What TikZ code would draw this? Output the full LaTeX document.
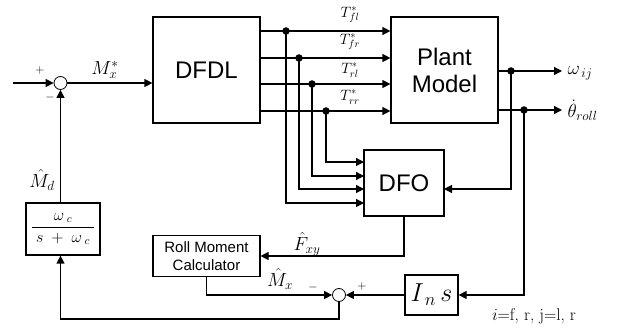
\documentclass[tikz,border=0pt]{standalone}
\usepackage{fix-cm}
\usepackage{fontspec}
\newfontfamily\boxfont{Liberation Sans}
\usetikzlibrary{arrows.meta}
\begin{document}
\begin{tikzpicture}[x=1pt,y=-1pt,
  line width=1.2pt,
  arr/.style={-{Triangle[length=8pt,width=8pt]}},
  blk/.style={draw,rectangle,inner sep=0pt,font=\boxfont\fontsize{24}{27}\selectfont,align=center},
  sumj/.style={draw,circle,minimum size=13pt,inner sep=0pt,line width=0.8pt},
  dot/.style={circle,fill,inner sep=0pt,minimum size=7.5pt},
  lab/.style={inner sep=0pt,font=\fontsize{19}{21}\selectfont},
  tlab/.style={inner sep=0pt,font=\fontsize{15}{17}\selectfont},
  sign/.style={inner sep=0pt,font=\fontsize{12}{12}\selectfont}]
\useasboundingbox (0,0) rectangle (619,331);

% blocks
\node[blk,minimum width=107pt,minimum height=106pt] (dfdl) at (206.5,70) {DFDL};
\node[blk,minimum width=107pt,minimum height=106pt] (plant) at (444.5,70) {Plant\\Model};
\node[blk,minimum width=80pt,minimum height=66pt] (dfo) at (404,183) {DFO};
\node[blk,font=\boxfont\fontsize{15}{18}\selectfont,minimum width=107pt,minimum height=41pt] (rmc) at (206.5,256) {Roll Moment\\Calculator};
\node[blk,font=\fontsize{26}{28}\selectfont,minimum width=53pt,minimum height=40pt] (ins) at (431.5,295) {$I_{\,n}\,s$};
\node[blk,font=\fontsize{16}{18}\selectfont,minimum width=74pt,minimum height=52pt] (filt) at (63,229) {$\displaystyle\frac{\omega_{\;c}}{\;s\;+\;\omega_{\;c}\;}$};

% summing junctions
\node[sumj] (s1) at (60.5,83) {};
\node[sumj] (s2) at (339,295) {};

% coordinates
\coordinate (in) at (13,83);
\coordinate (d1) at (286,31);
\coordinate (d2) at (299,58);
\coordinate (d3) at (312,84);
\coordinate (d4) at (326,111);
\coordinate (q1) at (364,203);
\coordinate (q2) at (364,189);
\coordinate (q3) at (364,176);
\coordinate (q4) at (364,162);
\coordinate (o1) at (511,71);
\coordinate (o2) at (524,110);
\coordinate (w) at (562,71);
\coordinate (th) at (562,110);
\coordinate (q5) at (444,189);
\coordinate (bl) at (60.5,319);

% connectors
\draw[arr] (in) -- (s1.west);
\draw[arr] (s1.east) -- (s1.east -| dfdl.west);
\foreach \k in {1,...,4} {\draw[arr] (dfdl.east |- d\k) -- (plant.west |- d\k);}
\foreach \k in {1,...,4} {\draw[arr] (d\k) |- (q\k);}
\draw[arr] (plant.east |- o1) -- (w);
\draw[arr] (plant.east |- o2) -- (th);
\draw[arr] (o1) |- (q5);
\draw[arr] (o2) |- (ins.east);
\draw[arr] (ins.west) -- (s2.east);
\draw[arr] (dfo.south) |- (rmc.east);
\draw[arr] (rmc.south) |- (s2.west);
\draw[arr] (s2.south) |- (bl) -- (bl |- filt.south);
\draw[arr] (filt.north -| s1) -- (s1.south);
\foreach \c in {d1,d2,d3,d4,o1,o2} {\node[dot] (dot-\c) at (\c) {};}

% labels
\node[lab] (lMx) at (105,70) {$M_{x}^{*}$};
\node[tlab] (lT1) at (350,15) {$T_{fl}^{*}$};
\node[tlab] (lT2) at (350,42) {$T_{fr}^{*}$};
\node[tlab] (lT3) at (350,70) {$T_{rl}^{*}$};
\node[tlab] (lT4) at (350,97) {$T_{rr}^{*}$};
\node[lab] (lMd) at (42,180) {$\hat{M}_{d}$};
\node[lab] (lF) at (307,244) {$\hat{F}_{xy}$};
\node[lab] (lMx2) at (280,279) {$\hat{M}_{x}$};
\node[lab,anchor=west] (lw) at (567,73) {$\omega_{\,ij}$};
\node[lab,anchor=west] (lth) at (567,110) {$\dot{\theta}_{roll}$};
\node[lab,font=\fontsize{17}{19}\selectfont] (note) at (534,316) {$i$=f, r, j=l, r};

% signs
\node[sign] (p1) at (40,71) {+};
\node[sign] (m1) at (50,98) {$-$};
\node[sign] (m2) at (313,288) {$-$};
\node[sign] (p2) at (362,287) {+};
\end{tikzpicture}
\end{document}
